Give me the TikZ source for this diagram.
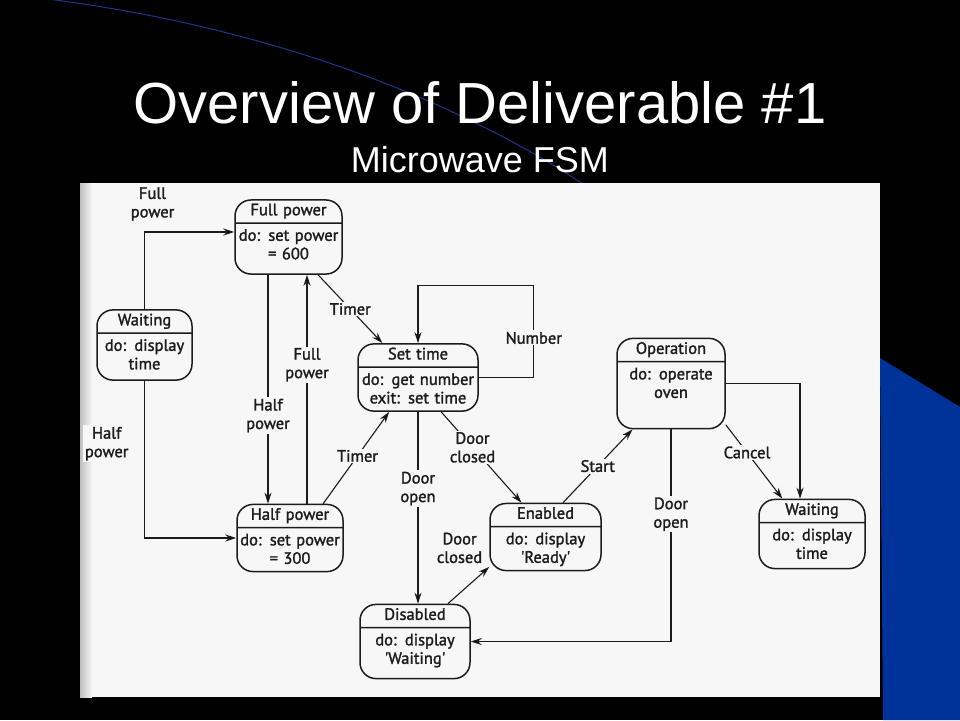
\documentclass[tikz,border=0pt]{standalone}
\usepackage{fontspec}
\setmainfont{Liberation Sans}
\newfontfamily\scanfont[FakeBold=1.6]{PT Sans}
\usetikzlibrary{shapes.multipart,arrows.meta}

\definecolor{pagecol}{RGB}{247,247,247}
\definecolor{slideblue}{RGB}{0,51,153}
\definecolor{arcblue}{RGB}{25,55,140}
\definecolor{ink}{RGB}{28,28,28}

\newcommand{\sthead}{\rule[-4pt]{0pt}{12pt}}
\newcommand{\sttop}{\rule{0pt}{14pt}}
\newcommand{\stbot}[1][8pt]{\rule[-#1]{0pt}{0pt}}

\tikzset{
  state/.style={rectangle split, rectangle split parts=2, draw=ink, line width=1.5pt,
    rounded corners=16pt, align=center, text width=#1, inner xsep=2pt, inner ysep=3pt,
    font=\scanfont\fontsize{16.5}{18.5}\selectfont, text=ink},
  trans/.style={draw=ink, line width=1.1pt, -{Stealth[length=11pt,width=7pt]}},
  tlabel/.style={fill=pagecol, inner sep=1.5pt, align=center, text=ink,
    font=\scanfont\fontsize{16.5}{18.5}\selectfont}
}

\begin{document}
\begin{tikzpicture}[x=1pt,y=-1pt]
\useasboundingbox (0,0) rectangle (960,720);
\fill[black] (0,0) rectangle (960,720);
\draw[arcblue, line width=1pt] (40,-2) .. controls (300,30) and (500,120) .. (620,210);
\fill[slideblue] (880,358) -- (960,407) -- (960,720) -- (883,720) -- cycle;

\node[text=white, font=\fontsize{58}{60}\selectfont] (title) at (480,103) {Overview of Deliverable \#1};
\node[text=white, font=\fontsize{36}{40}\selectfont] (subtitle) at (480,160) {Microwave FSM};

% scanned page
\fill[pagecol] (80,183) rectangle (880,697);
\shade[left color=gray!50, right color=pagecol] (80,183) rectangle (92,697);

% states
\node[state=103pt] (fullp) at (288.5,237) {\sthead Full power \nodepart{two} \sttop do: set power\\= 600\stbot[11pt]};
\node[state=91pt] (wait1) at (144.5,345) {\sthead Waiting \nodepart{two} \sttop do: display\\time\stbot[7pt]};
\node[state=116pt] (settime) at (418,377.5) {\sthead Set time \nodepart{two} \sttop do: get number\\exit: set time\stbot[4pt]};
\node[state=102pt] (halfp) at (290,538) {\sthead Half power \nodepart{two} \sttop do: set power\\= 300\stbot[4pt]};
\node[state=106pt] (disabled) at (415,641.5) {\sthead Disabled \nodepart{two} \sttop do: display\\\textquotesingle Waiting\textquotesingle\stbot[11pt]};
\node[state=107pt] (enabled) at (545.5,537) {\sthead Enabled \nodepart{two} \sttop do: display\\\textquotesingle Ready\textquotesingle\stbot[4pt]};
\node[state=104pt] (operation) at (671,383.5) {\sthead Operation \nodepart{two} \sttop do: operate\\oven\stbot[27pt]};
\node[state=102pt] (wait2) at (812,534) {\sthead Waiting \nodepart{two} \sttop do: display\\time\stbot[6pt]};

% transitions
\draw[trans] (wait1.north) |- ([yshift=5pt]fullp.west)
  node[tlabel, pos=0.5, xshift=8pt, yshift=28pt] {Full\\power};
\draw[trans] (wait1.south) |- (halfp.west)
  node[tlabel, pos=0.2, left=14pt] {Half\\power};
\draw[trans] ([xshift=-20.5pt]fullp.south) -- ([xshift=-20.5pt]fullp.south |- halfp.north)
  node[tlabel, pos=0.615] {Half\\power};
\draw[trans] ([xshift=17pt]halfp.north) -- ([xshift=17pt]halfp.north |- fullp.south)
  node[tlabel, pos=0.607] {Full\\power};
\draw[trans] (fullp.-52) -- (settime.136) node[tlabel, pos=0.5] {Timer};
\draw[trans] (halfp.46) -- (settime.230) node[tlabel, pos=0.52] {Timer};
\draw[trans] (settime.east) -- ++(55,0) -- ++(0,-92) node[tlabel, pos=0.43] {Number} -| (settime.north);
\draw[trans] (settime.south) -- (settime.south |- disabled.north) node[tlabel, pos=0.4] {Door\\open};
\draw[trans] (settime.-56) -- (enabled.125) node[tlabel, pos=0.39] {Door\\closed};
\draw[trans] (disabled.49) -- (enabled.208)
  node[tlabel, pos=1, anchor=east, xshift=-5pt, yshift=19pt] {Door\\closed};
\draw[trans] (enabled.63) -- (operation.230) node[tlabel, pos=0.5] {Start};
\draw[trans] (operation.-37) -- (wait2.130) node[tlabel, pos=0.375] {Cancel};
\draw[trans] (operation.east) -| ([xshift=-12pt]wait2.north);
\draw[trans] (operation.south) |- (disabled.east) node[tlabel, pos=0.2] {Door\\open};

\end{tikzpicture}
\end{document}
